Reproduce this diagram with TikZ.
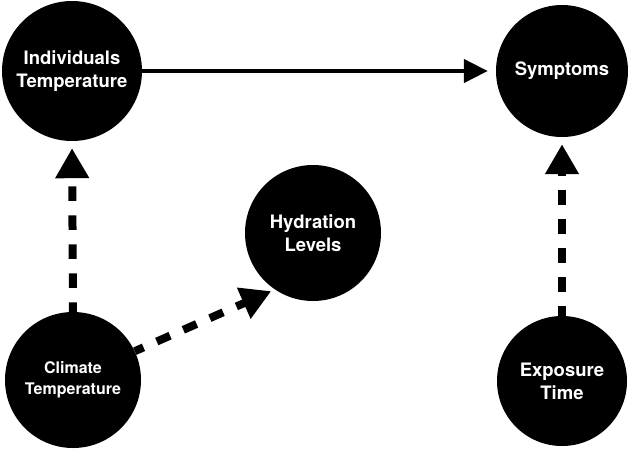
\documentclass[tikz,border=0pt]{standalone}
\usepackage{fontspec}
\setmainfont{TeX Gyre Heros}
\usetikzlibrary{arrows.meta}
\begin{document}
\begin{tikzpicture}[x=1pt,y=-1pt,
  var/.style={circle,fill=black,text=white,inner sep=0pt,align=center,
    font=\bfseries\fontsize{18.5}{23}\selectfont},
  smalltext/.style={font=\bfseries\fontsize{16}{21}\selectfont},
  causal/.style={line width=4.5pt,-{Triangle[length=24pt,width=23pt]},shorten >=8pt},
  weak/.style={line width=8pt,dash pattern=on 14.5pt off 14.5pt,dash phase=5pt,
    -{Triangle[length=30pt,width=32pt]},shorten >=7pt}]
\useasboundingbox (0,0) rectangle (629,448);

% variables
\node[var,minimum size=140pt] (indiv) at (72,71) {Individuals\\Temperature};
\node[var,minimum size=132pt] (sympt) at (562,71) {Symptoms};
\node[var,minimum size=136pt] (hydr) at (313,233) {Hydration\\Levels};
\node[var,smalltext,minimum size=136pt] (clim) at (73,380) {Climate\\Temperature};
\node[var,minimum size=130pt] (expo) at (562,381) {Exposure\\Time};

% direct effect
\draw[causal] (indiv.east) -- (sympt.west);

% indirect influences
\draw[weak] (clim.north) -- (indiv.south);
\draw[weak] (expo.north) -- (sympt.south);
\draw[weak,shorten >=4pt] (clim.25) -- (hydr.236);
\end{tikzpicture}
\end{document}
